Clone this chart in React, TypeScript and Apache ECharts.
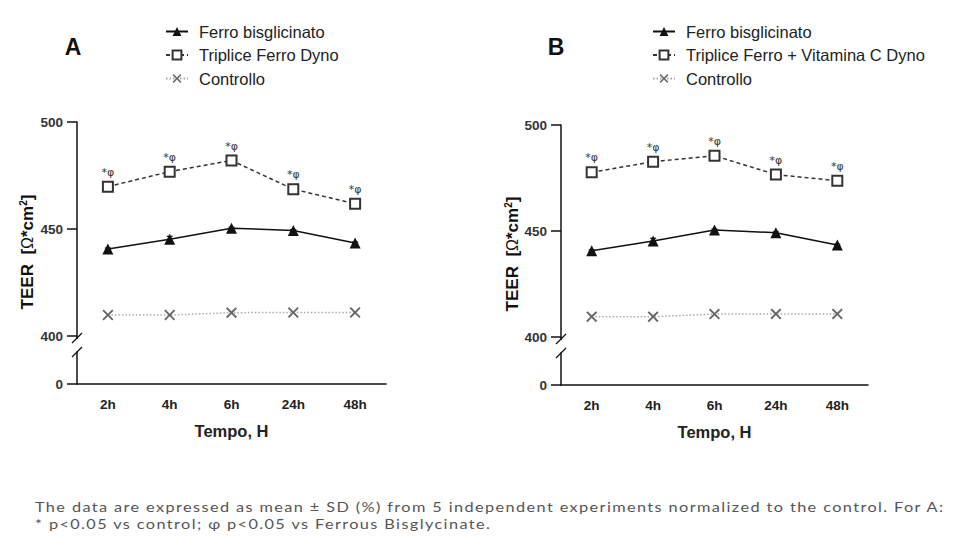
import React, { useEffect, useRef } from "react";
import * as echarts from "echarts";

const categories = ["2h", "4h", "6h", "24h", "48h"];
const upperTicks = [400, 450, 500];

const ferroA = [440.7, 445.2, 450.4, 449.3, 443.5];
const ferroSdA = [0.4, 1.4, 0.4, 0.4, 0.4];
const tripliceA = [469.8, 476.8, 482.0, 468.6, 461.8];
const controlloA = [409.8, 409.8, 410.9, 411.0, 411.0];

const ferroB = [440.7, 445.3, 450.5, 449.2, 443.4];
const ferroSdB = [0.4, 1.3, 0.4, 0.4, 0.4];
const tripliceB = [477.7, 482.7, 485.5, 476.6, 473.7];
const controlloB = [409.6, 409.6, 410.8, 410.9, 410.9];

const nameFerro = "Ferro bisglicinato";
const nameTripliceA = "Triplice Ferro Dyno";
const nameTripliceB = "Triplice Ferro + Vitamina C Dyno";
const nameControllo = "Controllo";
const annotation = "*φ";

const FONT = "Liberation Sans, Arial, sans-serif";
const crossSymbol =
  "path://M0,1.2L1.2,0L5,3.8L8.8,0L10,1.2L6.2,5L10,8.8L8.8,10L5,6.2L1.2,10L0,8.8L3.8,5Z";

export default function App() {
  const ref = useRef<HTMLDivElement>(null);

  useEffect(() => {
    document.body.style.margin = "0";
    const chart = echarts.init(ref.current!, null, { renderer: "svg" });

    const panels = [
      { left: 77, top: 122, width: 309, height: 214, lowTop: 352, lowH: 32 },
      { left: 561, top: 125, width: 307, height: 212, lowTop: 353, lowH: 32 },
    ];

    const grids: any[] = [];
    const xAxes: any[] = [];
    const yAxes: any[] = [];
    panels.forEach((p) => {
      grids.push({ left: p.left, top: p.top, width: p.width, height: p.height });
      grids.push({ left: p.left, top: p.lowTop, width: p.width, height: p.lowH });
    });
    panels.forEach((p, i) => {
      xAxes.push({
        type: "category",
        gridIndex: i * 2,
        data: categories,
        boundaryGap: true,
        show: false,
      });
      xAxes.push({
        type: "category",
        gridIndex: i * 2 + 1,
        data: categories,
        boundaryGap: true,
        axisLine: { lineStyle: { color: "#111", width: 1.5 } },
        axisTick: { alignWithLabel: true, length: 6, lineStyle: { color: "#111", width: 1.5 } },
        axisLabel: { fontFamily: FONT, fontWeight: "bold", fontSize: 13.5, color: "#222", margin: 13 },
        name: "Tempo, H",
        nameLocation: "middle",
        nameGap: 38,
        nameTextStyle: { fontFamily: FONT, fontWeight: "bold", fontSize: 16.5, color: "#222" },
      });
      yAxes.push({
        type: "value",
        gridIndex: i * 2,
        min: upperTicks[0],
        max: upperTicks[upperTicks.length - 1],
        interval: upperTicks[1] - upperTicks[0],
        axisLine: { show: true, lineStyle: { color: "#111", width: 1.5 } },
        axisTick: { show: true, length: 10, lineStyle: { color: "#111", width: 1.5 } },
        axisLabel: { fontFamily: FONT, fontWeight: "bold", fontSize: 13.5, color: "#333", margin: 14 },
        splitLine: { show: false },
      });
      yAxes.push({
        type: "value",
        gridIndex: i * 2 + 1,
        min: 0,
        max: 10,
        interval: 10,
        axisLine: { show: true, lineStyle: { color: "#111", width: 1.5 } },
        axisTick: { show: true, length: 10, customValues: [0], lineStyle: { color: "#111", width: 1.5 } },
        axisLabel: { fontFamily: FONT, fontWeight: "bold", fontSize: 13.5, color: "#333", margin: 14, customValues: [0] },
        splitLine: { show: false },
      });
    });

    const errorSeries = (means: number[], sds: number[], axisIdx: number) => ({
      type: "custom",
      xAxisIndex: axisIdx,
      yAxisIndex: axisIdx,
      silent: true,
      z: 1,
      data: means.map((m, i) => [i, m - sds[i], m + sds[i]]),
      renderItem: (params: any, api: any) => {
        const lo = api.coord([api.value(0), api.value(1)]);
        const hi = api.coord([api.value(0), api.value(2)]);
        const w = 3;
        const st = { stroke: "#111", lineWidth: 1.2 };
        return {
          type: "group",
          children: [
            { type: "line", shape: { x1: lo[0], y1: lo[1], x2: hi[0], y2: hi[1] }, style: st },
            { type: "line", shape: { x1: lo[0] - w, y1: lo[1], x2: lo[0] + w, y2: lo[1] }, style: st },
            { type: "line", shape: { x1: hi[0] - w, y1: hi[1], x2: hi[0] + w, y2: hi[1] }, style: st },
          ],
        };
      },
    });

    const seriesFor = (
      ferro: number[],
      sd: number[],
      triplice: number[],
      ctrl: number[],
      tripName: string,
      axisIdx: number
    ) => [
      errorSeries(ferro, sd, axisIdx),
      {
        name: nameFerro,
        type: "line",
        xAxisIndex: axisIdx,
        yAxisIndex: axisIdx,
        data: ferro,
        symbol: "triangle",
        symbolSize: 11,
        lineStyle: { color: "#111", width: 1.5 },
        itemStyle: { color: "#111" },
        z: 3,
      },
      {
        name: tripName,
        type: "line",
        xAxisIndex: axisIdx,
        yAxisIndex: axisIdx,
        data: triplice,
        symbol: "emptyRect",
        symbolSize: 10,
        lineStyle: { color: "#333", width: 1.5, type: [4, 3] },
        itemStyle: { color: "#333", borderWidth: 1.5 },
        label: {
          show: true,
          position: "top",
          distance: 3,
          formatter: annotation,
          fontFamily: "DejaVu Sans, sans-serif",
          fontSize: 11,
          color: "#333",
        },
        z: 3,
      },
      {
        name: nameControllo,
        type: "line",
        xAxisIndex: axisIdx,
        yAxisIndex: axisIdx,
        data: ctrl,
        symbol: crossSymbol,
        symbolSize: 11,
        lineStyle: { color: "#aaa", width: 1.5, type: [1.5, 2] },
        itemStyle: { color: "#666" },
        z: 3,
      },
    ];

    const legendFor = (left: number, tripName: string) => ({
      orient: "vertical",
      left,
      top: 18,
      itemWidth: 22,
      itemHeight: 11,
      itemGap: 6.5,
      selectedMode: false,
      data: [nameFerro, tripName, nameControllo],
      textStyle: { fontFamily: FONT, fontSize: 16.5, color: "#222", padding: [0, 0, 0, 6] },
    });

    const breakMarks = (x: number, y400: number, yLow: number) => [
      { type: "line", shape: { x1: x, y1: y400, x2: x, y2: y400 + 3 }, style: { stroke: "#111", lineWidth: 1.5 } },
      { type: "line", shape: { x1: x - 5, y1: y400 + 7, x2: x + 5, y2: y400 - 3 }, style: { stroke: "#111", lineWidth: 1.3 } },
      { type: "line", shape: { x1: x - 5, y1: yLow + 5, x2: x + 5, y2: yLow - 5 }, style: { stroke: "#111", lineWidth: 1.3 } },
    ];

    const yName = (x: number, y: number) => ({
      type: "text",
      x,
      y,
      rotation: Math.PI / 2,
      style: {
        text: "{b|TEER  [}{o|Ω}{b|*cm}{s|2}{b|]}",
        align: "center",
        verticalAlign: "middle",
        fill: "#111",
        rich: {
          b: { fontFamily: FONT, fontWeight: "bold", fontSize: 17, fill: "#111" },
          o: { fontFamily: FONT, fontSize: 16, fill: "#111" },
          s: { fontFamily: FONT, fontWeight: "bold", fontSize: 10, fill: "#111", verticalAlign: "top", padding: [0, 0, 8, 0] },
        },
      },
    });

    chart.setOption({
      animation: false,
      backgroundColor: "#fff",
      grid: grids,
      xAxis: xAxes,
      yAxis: yAxes,
      legend: [legendFor(160, nameTripliceA), legendFor(647, nameTripliceB)],
      series: [
        ...seriesFor(ferroA, ferroSdA, tripliceA, controlloA, nameTripliceA, 0),
        ...seriesFor(ferroB, ferroSdB, tripliceB, controlloB, nameTripliceB, 2),
      ],
      graphic: [
        {
          type: "text",
          x: 73,
          y: 47,
          style: { text: "A", fontFamily: FONT, fontWeight: "bold", fontSize: 23, fill: "#111", align: "center", verticalAlign: "middle" },
        },
        {
          type: "text",
          x: 556,
          y: 47,
          style: { text: "B", fontFamily: FONT, fontWeight: "bold", fontSize: 23, fill: "#111", align: "center", verticalAlign: "middle" },
        },
        yName(27, 252),
        yName(512, 254),
        ...breakMarks(77, 336, 352),
        ...breakMarks(561, 337, 353),
      ],
    });

    return () => chart.dispose();
  }, []);

  return (
    <div style={{ position: "relative", width: 960, height: 551, background: "#fff", overflow: "hidden" }}>
      <div ref={ref} style={{ width: 960, height: 551 }} />
      <div
        style={{
          position: "absolute",
          left: 35,
          top: 498,
          fontFamily: "Lato, sans-serif",
          fontSize: 14,
          lineHeight: "17px",
          letterSpacing: "1.2px",
          color: "#555",
          whiteSpace: "nowrap",
          transform: "scaleX(1.163)",
          transformOrigin: "0 0",
        }}
      >
        <div>The data are expressed as mean ± SD (%) from 5 independent experiments normalized to the control. For A:</div>
        <div>* p&lt;0.05 vs control; φ p&lt;0.05 vs Ferrous Bisglycinate.</div>
      </div>
    </div>
  );
}
